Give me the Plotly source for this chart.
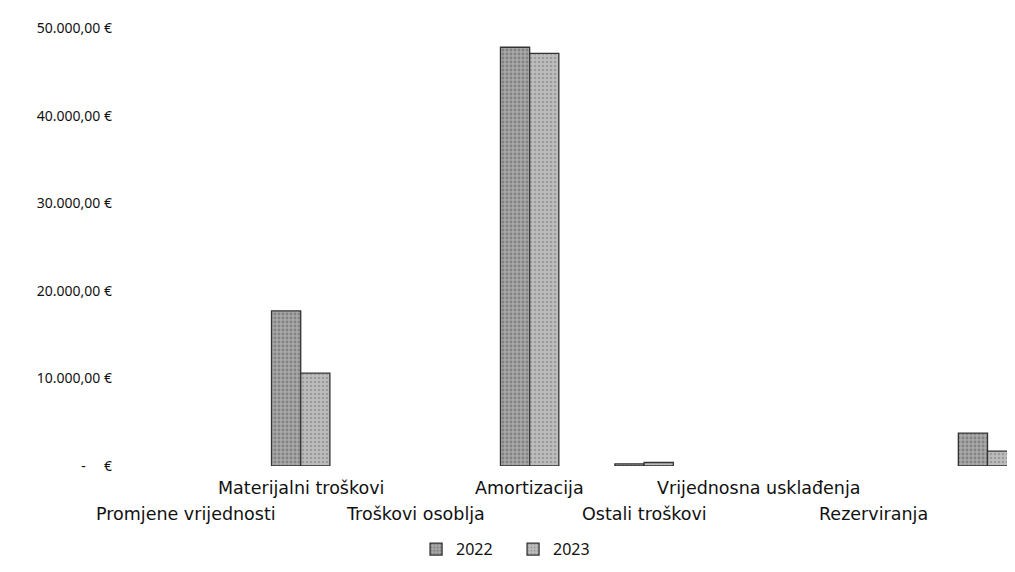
import plotly.graph_objects as go

categories = ["Promjene vrijednosti", "Materijalni troškovi", "Troškovi osoblja",
              "Amortizacija", "Ostali troškovi", "Vrijednosna usklađenja",
              "Rezerviranja", ""]
values_2022 = [0, 17700, 0, 47800, 250, 0, 0, 3750]
values_2023 = [0, 10600, 0, 47100, 400, 0, 0, 1700]
series_names = ["2022", "2023"]
y_tickvals = [0, 10000, 20000, 30000, 40000, 50000]
y_ticktext = ["-\u00a0\u00a0\u00a0\u00a0\u00a0€", "10.000,00 €", "20.000,00 €",
              "30.000,00 €", "40.000,00 €", "50.000,00 €"]


def nz(vals):
    return [v if v else None for v in vals]


fig = go.Figure()
fig.add_trace(go.Bar(
    name=series_names[0], x=list(range(len(categories))), y=nz(values_2022),
    marker=dict(color="#9c9c9c", line=dict(color="#333333", width=1.3),
                pattern=dict(shape=".", fgcolor="#5e5e5e", bgcolor="#a8a8a8",
                             size=4, solidity=0.4)),
))
fig.add_trace(go.Bar(
    name=series_names[1], x=list(range(len(categories))), y=nz(values_2023),
    marker=dict(color="#b4b4b4", line=dict(color="#333333", width=1.3),
                pattern=dict(shape=".", fgcolor="#7a7a7a", bgcolor="#bdbdbd",
                             size=4, solidity=0.35)),
))

# staggered category labels (alternate rows)
for i, c in enumerate(categories):
    if not c:
        continue
    upper = (i % 2 == 1)
    fig.add_annotation(
        x=i, y=0, xref="x", yref="y", yanchor="middle",
        yshift=-22 if upper else -48, text=c, showarrow=False,
        font=dict(family="DejaVu Sans", size=17.5, color="#111111"),
    )

fig.update_layout(
    width=1015, height=572,
    paper_bgcolor="white", plot_bgcolor="white",
    margin=dict(l=121, r=8, t=20, b=114, autoexpand=False),
    barmode="group", bargap=0.49, bargroupgap=0,
    showlegend=True,
    legend=dict(orientation="h", x=0.324, xanchor="left", y=-0.19, yanchor="middle",
                font=dict(family="Noto Sans", size=16, color="#111111"),
                itemwidth=30, entrywidth=52, entrywidthmode="pixels",
                traceorder="normal"),
    xaxis=dict(range=[-0.5, 7.24], showticklabels=False, showgrid=False,
               zeroline=False, showline=False, ticks="", automargin=False),
    yaxis=dict(range=[0, 50000], tickvals=y_tickvals, ticktext=y_ticktext,
               showgrid=False, zeroline=False, showline=False, ticks="",
               ticklabelstandoff=16, automargin=False,
               tickfont=dict(family="Noto Sans", size=14, color="#111111")),
)

fig.write_html("out.html")
